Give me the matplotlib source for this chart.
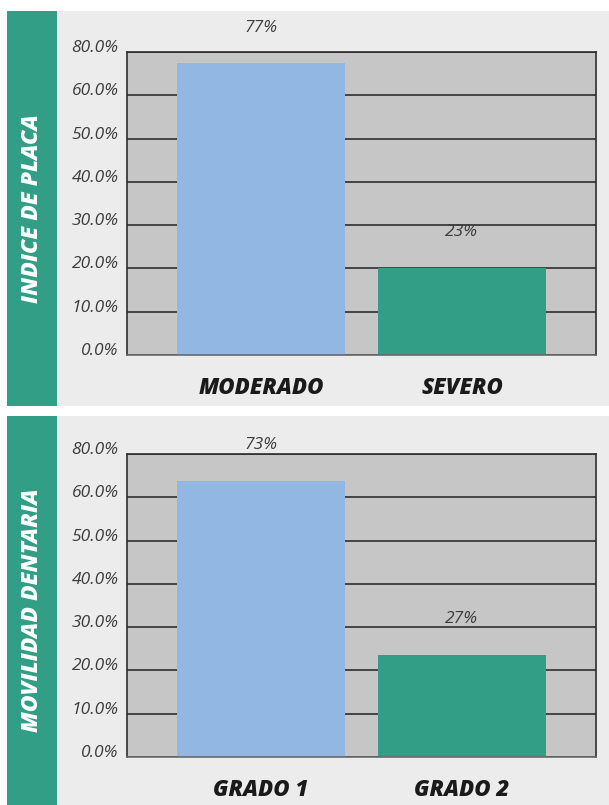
import matplotlib.pyplot as plt
from matplotlib.patches import Rectangle
from matplotlib import transforms

# ---- data ----
plaque_cats = ['MODERADO', 'SEVERO']
plaque_vals = [77, 23]
mobility_cats = ['GRADO 1', 'GRADO 2']
mobility_vals = [73, 27]
tick_labels = ['0.0%', '10.0%', '20.0%', '30.0%', '40.0%', '50.0%', '60.0%', '80.0%']

GREEN = '#329e86'
BLUE = '#92b7e3'
PANEL = '#ececec'
PLOT_BG = '#c6c6c6'
FONT = ['Open Sans', 'DejaVu Sans']

W, H = 609, 805
fig = plt.figure(figsize=(W / 100, H / 100), dpi=100)
fig.patch.set_facecolor('white')


def px_rect(x0, y0, x1, y1):
    # pixel box (top-left origin) -> figure fraction [l, b, w, h]
    return [x0 / W, 1 - y1 / H, (x1 - x0) / W, (y1 - y0) / H]


def panel(top, bottom, ax_top, ax_bottom, title, cats, vals):
    l, b, w, h = px_rect(7, top, 609, bottom)
    fig.patches.append(Rectangle((l, b), w, h, transform=fig.transFigure,
                                 facecolor=PANEL, edgecolor='none', zorder=-10))
    l, b, w, h = px_rect(7, top, 57, bottom)
    fig.patches.append(Rectangle((l, b), w, h, transform=fig.transFigure,
                                 facecolor=GREEN, edgecolor='none', zorder=-10))
    fig.text(32 / W, 1 - ((top + bottom) / 2) / H, title, rotation=90,
             ha='center', va='center', color='white', fontsize=16.5,
             fontweight='heavy', fontstyle='italic', family=FONT)

    ax = fig.add_axes(px_rect(127, ax_top, 596, ax_bottom))
    ax.set_facecolor(PLOT_BG)
    ymax = 80
    ticks = [ymax * k / 7 for k in range(len(tick_labels))]
    ax.set_ylim(0, ymax)
    ax.set_xlim(-0.667, 1.667)
    ax.set_yticks(ticks)
    ax.set_yticklabels(tick_labels, fontsize=12.5, fontstyle='italic',
                       color='#3c3c3c', family=FONT)
    ax.tick_params(axis='y', length=0, pad=6)
    # labels sit slightly above their gridlines
    shift = transforms.ScaledTranslation(0, 6 / 100, fig.dpi_scale_trans)
    for lab in ax.get_yticklabels():
        lab.set_transform(lab.get_transform() + shift)
    ax.grid(axis='y', color='#2e2e2e', linewidth=1.2, zorder=1)
    ax.set_axisbelow(True)

    x = range(len(cats))
    ax.bar(x, vals, width=0.836, color=[BLUE, GREEN], zorder=2)
    ax.set_xticks(list(x))
    ax.set_xticklabels(cats, fontsize=16, fontweight='heavy', fontstyle='italic',
                       color='#1a1a1a', family=FONT)
    ax.tick_params(axis='x', length=0, pad=15)

    for xi, v in zip(x, vals):
        ax.annotate(f'{v}%', (xi, v), xytext=(0, 20), textcoords='offset points',
                    ha='center', va='bottom', fontsize=12.5, fontstyle='italic',
                    color='#3c3c3c', family=FONT, annotation_clip=False)

    for side in ['left', 'right', 'top']:
        ax.spines[side].set_color('#2e2e2e')
        ax.spines[side].set_linewidth(1.2)
    ax.spines['bottom'].set_color('#6a6a6a')
    ax.spines['bottom'].set_linewidth(1.2)
    return ax


panel(11, 406, 52, 355, 'INDICE DE PLACA', plaque_cats, plaque_vals)
panel(416, 805, 454, 757, 'MOVILIDAD DENTARIA', mobility_cats, mobility_vals)

fig.savefig('out.png', dpi=100, facecolor='white')
